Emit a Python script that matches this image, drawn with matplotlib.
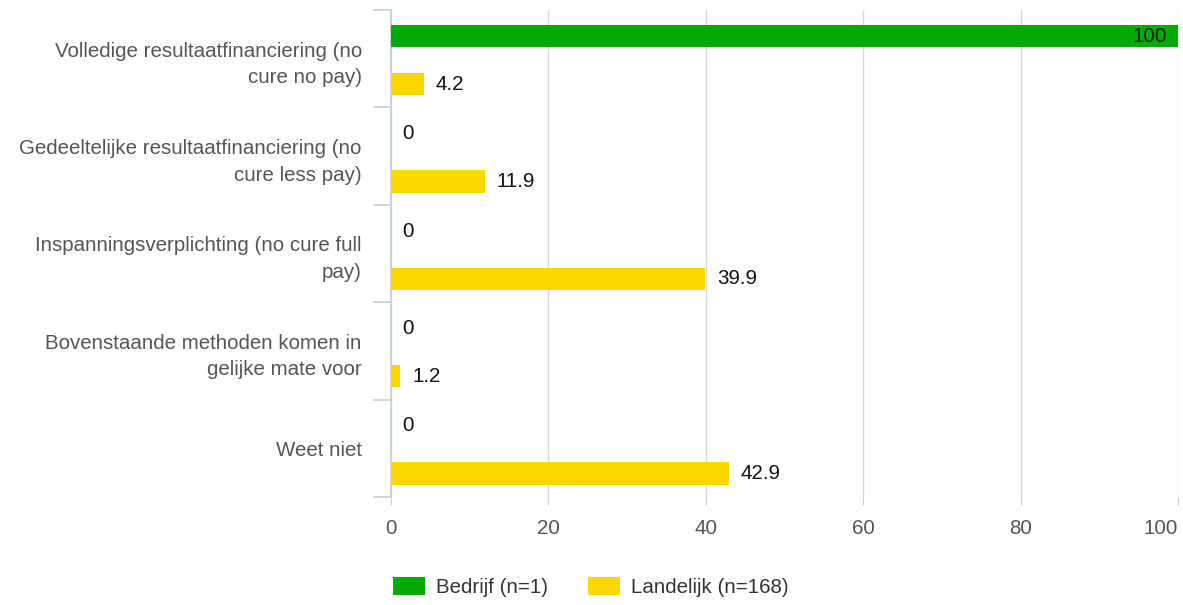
import matplotlib
matplotlib.use("Agg")
import matplotlib.pyplot as plt
import numpy as np

categories = [
    "Volledige resultaatfinanciering (no\ncure no pay)",
    "Gedeeltelijke resultaatfinanciering (no\ncure less pay)",
    "Inspanningsverplichting (no cure full\npay)",
    "Bovenstaande methoden komen in\ngelijke mate voor",
    "Weet niet",
]
bedrijf = [100, 0, 0, 0, 0]
landelijk = [4.2, 11.9, 39.9, 1.2, 42.9]
series_names = ["Bedrijf (n=1)", "Landelijk (n=168)"]
xticks = [0, 20, 40, 60, 80, 100]

green = "#00AA00"
yellow = "#FFD700"
FS = 14.8

plt.rcParams["font.family"] = ["Liberation Sans", "DejaVu Sans"]

fig = plt.figure(figsize=(11.83, 6.05), dpi=100)
ax = fig.add_axes([391 / 1183, 1 - 497 / 605, (1178 - 391) / 1183, (497 - 10) / 605])

y = np.arange(len(categories))
h = 0.23
off_g = -0.23
off_y = 0.26
ax.barh(y + off_g, bedrijf, height=h, color=green, label=series_names[0], zorder=3)
ax.barh(y + off_y, landelijk, height=h, color=yellow, label=series_names[1], zorder=3)

ax.set_xlim(0, 100)
ax.set_ylim(len(categories) - 0.5, -0.5)

# value labels
for yi, v in zip(y, bedrijf):
    if v >= 100:
        ax.text(v - 1.4, yi + off_g, f"{v:g}", ha="right", va="center", fontsize=FS, color="#222222", zorder=4)
    else:
        ax.text(v + 1.4, yi + off_g, f"{v:g}", ha="left", va="center", fontsize=FS, color="#111111")
for yi, v in zip(y, landelijk):
    ax.text(v + 1.5, yi + off_y, f"{v:g}", ha="left", va="center", fontsize=FS, color="#111111")

# grid
ax.set_xticks(xticks)
ax.set_xticklabels([str(t) for t in xticks], fontsize=FS, color="#555555")
ax.get_xticklabels()[-1].set_horizontalalignment("right")
ax.xaxis.grid(True, color="#d8d8d8", linewidth=1.0, zorder=0)
ax.tick_params(axis="x", length=6, color="#cccccc", pad=10, direction="out")

# y ticks
ax.set_yticks(y)
ax.set_yticklabels(categories, fontsize=FS, color="#555555", linespacing=1.5)
ax.tick_params(axis="y", which="major", length=0, pad=21)
ax.set_yticks(np.arange(len(categories) + 1) - 0.5, minor=True)
ax.tick_params(axis="y", which="minor", length=13, color="#c0d0e0", width=1.2)

for s in ["top", "right", "bottom"]:
    ax.spines[s].set_visible(False)
ax.spines["left"].set_color("#c0d0e0")
ax.spines["left"].set_linewidth(1.2)

handles, labels = ax.get_legend_handles_labels()
fig.legend(handles, labels, loc="center left", bbox_to_anchor=(393 / 1183, 1 - 587 / 605), ncol=2,
           frameon=False, fontsize=FS, handlelength=1.55, handleheight=1.0, columnspacing=1.95,
           handletextpad=0.55, borderpad=0, borderaxespad=0, labelcolor="#333333")

fig.savefig("out.png", dpi=100)
